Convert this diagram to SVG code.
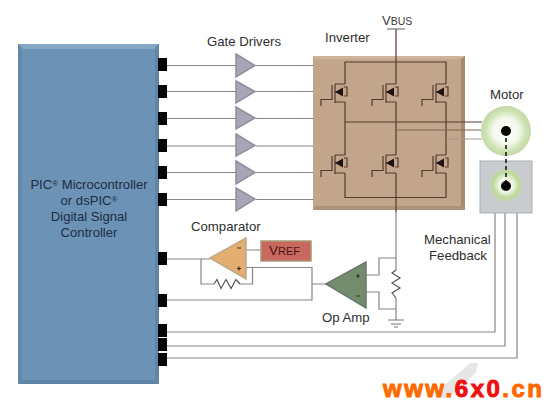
<svg xmlns="http://www.w3.org/2000/svg" width="556" height="411" viewBox="0 0 556 411">
<style>
.t{font-family:"Liberation Sans",Arial,sans-serif;font-size:13.2px;fill:#2e2e2e}
.c{font-family:"Liberation Sans",Arial,sans-serif;font-size:13.1px;fill:#1c2c44;text-anchor:middle}
.w{fill:none;stroke:#858585;stroke-width:1.2}
.d{fill:none;stroke:#55392c;stroke-width:1.2}
.pin{fill:#060606}
.gd{fill:#a9a5b6;stroke:#928c9c;stroke-width:1.5}
.wm{font-family:"Liberation Sans",Arial,sans-serif;font-size:24px;font-weight:bold;letter-spacing:2.5px;stroke-width:1}
</style>
<defs>
<radialGradient id="mg"><stop offset="0" stop-color="#fff"/><stop offset=".5" stop-color="#f4f9ee"/><stop offset=".8" stop-color="#cfe2b4"/><stop offset="1" stop-color="#c3d8a6"/></radialGradient>
<radialGradient id="fg"><stop offset="0" stop-color="#fff"/><stop offset=".45" stop-color="#eef6e2"/><stop offset=".8" stop-color="#bcd89c"/><stop offset="1" stop-color="#c6d6ae"/></radialGradient>
<g id="fet">
<path class="d" d="M-24 22V15.500H-13V1M-10 0V19M-10 0H0M-10 18H0M-10 8H-3"/>
<path d="M-10 8L-2 3.500V12.500Z" fill="#1b1412"/>
<path class="d" d="M-1 3H2V12H-1"/>
</g>
</defs>
<rect width="556" height="411" fill="#fff"/>
<g id="controller">
<rect x="18" y="44" width="141" height="340" fill="#6c93b6"/>
<path d="M18 44H159L154 49H23Z" fill="#86a8c4"/>
<path d="M18 44L22 48V380L18 384Z" fill="#6288ab"/>
<path d="M159 44L155 48V380L159 384Z" fill="#5f85a8"/>
<path d="M18 384L22 380H155L159 384Z" fill="#5f85a6"/>
<text class="c" x="89" y="189">PIC<tspan font-size="8" dy="-3">®</tspan><tspan dy="3"> Microcontroller</tspan></text>
<text class="c" x="89" y="205">or dsPIC<tspan font-size="8" dy="-3">®</tspan></text>
<text class="c" x="89" y="221">Digital Signal</text>
<text class="c" x="89" y="237">Controller</text>
</g>
<g id="connectors">
<path class="w" d="M167 65.500H236M256 65.500H314M167 91.500H236M256 91.500H314M167 118.500H236M256 118.500H314M167 146H236M256 146H314M167 172.500H236M256 172.500H314M167 199.500H236M256 199.500H314"/>
<path class="w" d="M167 259H210M201 259V284H214M240 284H252.500V268M246 267.500H312V284M326 284H312V300H167M246 250H261"/>
<path class="w" d="M366 275H379V258H396M366 292H379V309H396M396 212V270M396 298V320"/>
<path class="w" d="M167 332H495V212M167 346H505V212M167 358H517V212"/>
<path d="M214 284L217 279.500L221 288.500L226 279.500L231 288.500L236 279.500L240 284M396 270L392 273L400 278L392 283L400 288L392 293L396 298" fill="none" stroke="#555" stroke-width="1.2"/>
<path d="M388 320H404M391 324H401M394 327H398" stroke="#777" stroke-width="1.2" fill="none"/>
</g>
<g id="pins">
<rect class="pin" x="158" y="58" width="9" height="13"/><rect class="pin" x="158" y="85" width="9" height="13"/><rect class="pin" x="158" y="112" width="9" height="13"/><rect class="pin" x="158" y="139" width="9" height="13"/><rect class="pin" x="158" y="166" width="9" height="13"/><rect class="pin" x="158" y="193" width="9" height="13"/><rect class="pin" x="158" y="252" width="9" height="13"/><rect class="pin" x="158" y="294" width="9" height="13"/><rect class="pin" x="158" y="324" width="9" height="13"/><rect class="pin" x="158" y="338" width="9" height="13"/><rect class="pin" x="158" y="353" width="9" height="13"/>
</g>
<g id="gate-drivers">
<text class="t" x="207" y="46">Gate Drivers</text>
<path class="gd" d="M236 54L255 65.500L236 77Z"/><path class="gd" d="M236 81L255 91.500L236 103Z"/><path class="gd" d="M236 107L255 118L236 129Z"/><path class="gd" d="M236 134L255 145.500L236 156Z"/><path class="gd" d="M236 161L255 172.500L236 184Z"/><path class="gd" d="M236 188L255 199L236 211Z"/>
</g>
<g id="inverter">
<text class="t" x="325" y="42">Inverter</text>
<rect x="313" y="56" width="152" height="154" fill="#c3a58b"/>
<path d="M313 56H465L461 59H316Z" fill="#cfb49c"/>
<path d="M465 56L461 59V206L465 210Z" fill="#a58a72"/>
<path d="M313 210L316 206H461L465 210Z" fill="#ad927a"/>
<path class="d" d="M345 84V62H446V84M396 29V84"/>
<path class="d" d="M345 102V155M396 102V155M446 102V155M345 173V197.500H446V173M396 173V212"/>
<path class="d" d="M345 122H482"/>
<path d="M396 130H482" fill="none" stroke="#7d6757" stroke-width="1.2"/>
<path d="M446 139H482" fill="none" stroke="#a7988c" stroke-width="1.2"/>
<use href="#fet" x="345" y="84"/><use href="#fet" x="396" y="84"/><use href="#fet" x="446" y="84"/>
<use href="#fet" x="345" y="155"/><use href="#fet" x="396" y="155"/><use href="#fet" x="446" y="155"/>
</g>
<g id="vbus">
<text x="382" y="25" font-family="'Liberation Sans',Arial,sans-serif" font-size="13" fill="#3a3a3a">V<tspan font-size="10.500">BUS</tspan></text>
<path d="M387 29H405" stroke="#777" stroke-width="1.2"/>
</g>
<g id="motor">
<text class="t" x="490" y="99">Motor</text>
<circle cx="506" cy="131" r="25" fill="url(#mg)"/>
<rect x="480" y="161" width="52" height="52" fill="#c8ccce" stroke="#aab0b2"/>
<circle cx="506" cy="185" r="16" fill="url(#fg)"/>
<path d="M506 131V186" stroke="#1a1a1a" stroke-width="1.6" stroke-dasharray="4 3"/>
<circle cx="506" cy="131" r="5" fill="#060606"/>
<circle cx="506" cy="186" r="5" fill="#060606"/>
</g>
<g id="labels">
<text class="t" x="424" y="244">Mechanical</text>
<text class="t" x="429" y="260">Feedback</text>
</g>
<g id="comparator">
<text class="t" x="191" y="231">Comparator</text>
<path d="M210 258L246 238V279Z" fill="#e3ae72" stroke="#bfa78a" stroke-width="1.5"/>
<path d="M237 248H241" stroke="#6b4a2a" stroke-width="1.2"/>
<path d="M237 268.500H241M239 266.500V270.500" stroke="#3a2a1a" stroke-width="1.2"/>
</g>
<g id="vref">
<rect x="261" y="241" width="50" height="20" fill="#c8685f" stroke="#a89a78" stroke-width="1.5"/>
<text x="269" y="255" font-family="'Liberation Sans',Arial,sans-serif" font-size="13.500" fill="#4a1414">V<tspan font-size="11">REF</tspan></text>
</g>
<g id="opamp">
<path d="M326 284L366 262V308Z" fill="#748b6e" stroke="#68796a" stroke-width="1.5"/>
<path d="M356 276H360M358 274V278M356 296H360" stroke="#2a3a2a" stroke-width="1.2"/>
<text class="t" x="322" y="322">Op Amp</text>
</g>
<g id="watermark">
<path d="M445 385L470 363H478L476 372L464 385L448 398H436Z" fill="#e6e6e6"/>
<text class="wm" x="383" y="397" fill="#ff6a00" stroke="#ff6a00">www.<tspan fill="#f01010" stroke="#f01010">6x0</tspan>.cn</text>
</g>
</svg>
